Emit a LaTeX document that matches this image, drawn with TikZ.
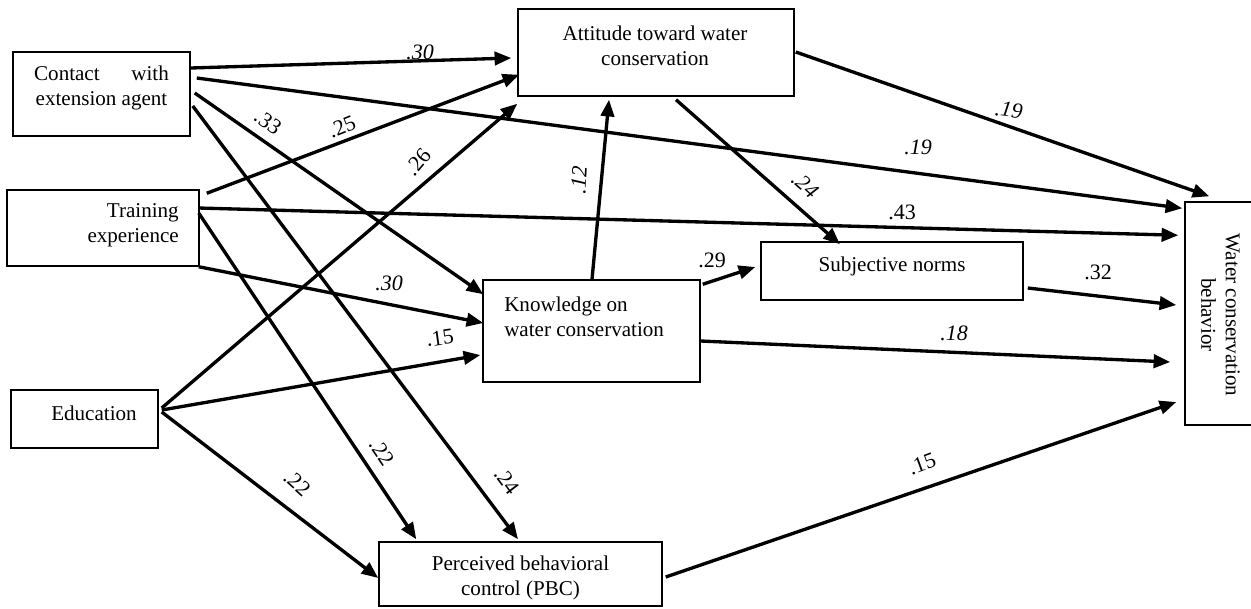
\documentclass[tikz,border=0pt]{standalone}
\usepackage{fontspec}
\setmainfont{Liberation Serif}
\usetikzlibrary{calc,arrows.meta}

\tikzset{
  box/.style={draw=black,line width=1.1pt,inner sep=0pt},
  txt/.style={font=\fontsize{15.8}{18.5}\selectfont,inner sep=0pt},
  link/.style={line width=2.5pt,-{Triangle[length=12.5pt,width=10pt]}},
  lab/.style={font=\fontsize{16.5}{18}\selectfont,inner sep=0pt}
}

\begin{document}
\begin{tikzpicture}[x=0.75pt,y=-0.75pt]
        \useasboundingbox (0,0) rectangle (1251,608);
        \node[box,minimum width=132.75pt,minimum height=63pt] (contact) at (101.5,94) {};
        \node[box,minimum width=144pt,minimum height=57pt] (training) at (103,228) {};
        \node[box,minimum width=110.25pt,minimum height=43.5pt] (edu) at (84.5,419) {};
        \node[box,minimum width=207pt,minimum height=65.25pt] (attitude) at (656,52.5) {};
        \node[box,minimum width=162.75pt,minimum height=76.5pt] (know) at (591.5,331) {};
        \node[box,minimum width=196.5pt,minimum height=43.5pt] (norms) at (892,271) {};
        \node[box,minimum width=212.25pt,minimum height=48pt] (pbc) at (520.5,574) {};
        \node[box,minimum width=53.25pt,minimum height=167.25pt] (behavior) at (1220.5,313.5) {};
        \node[txt,align=center] (contact-txt) at (101.5,88) {\hbox to 101pt{Contact\hfill with}\\extension agent};
        \node[txt,align=right,anchor=east] (training-txt) at (179,225.5) {Training\\experience};
        \node[txt] (edu-txt) at (94,413) {Education};
        \node[txt,align=center] (attitude-txt) at (655,46) {Attitude toward water\\conservation};
        \node[txt,align=left,anchor=west] (know-txt) at (504,316.5) {Knowledge on\\water conservation};
        \node[txt] (norms-txt) at (892,266) {Subjective norms};
        \node[txt,align=center] (pbc-txt) at (520.5,578) {Perceived behavioral\\control (PBC)};
        \node[txt,align=center,rotate=-90] (behavior-txt) at (1220.5,315) {Water conservation\\behavior};
        \draw[link] ($(contact.east)+(0,-26)$) -- ($(attitude.west)+(-6,5.5)$);
        \draw[link] ($(contact.east)+(6,-16)$) -- ($(behavior.north west)+(-2,7)$);
        \draw[link] ($(contact.east)+(4,-1)$) -- ($(know.north west)+(1,15)$);
        \draw[link] ($(contact.east)+(2,12)$) -- ($(pbc.north)+(-2.5,-2)$);
        \draw[link] ($(training.north east)+(7,4)$) -- ($(attitude.south west)+(2,-22)$);
        \draw[link] ($(training.east)+(-1,-20)$) -- ($(behavior.north west)+(-6,34)$);
        \draw[link] ($(training.south east)+(-1,0)$) -- ($(know.west)+(1,-8)$);
        \draw[link] ($(training.east)+(-1,-15)$) -- ($(pbc.north west)+(38,-2)$);
        \draw[link] ($(edu.east)+(3,-11)$) -- ($(attitude.south west)+(0,7)$);
        \draw[link] ($(edu.east)+(3,-9)$) -- ($(know.west)+(-2,24)$);
        \draw[link] ($(edu.east)+(3,-7)$) -- ($(pbc.west)+(0,4)$);
        \draw[link] ($(know.north)+(0.5,0)$) -- ($(attitude.south)+(-47,3)$);
        \draw[link] ($(attitude.south)+(20,3)$) -- ($(norms.north)+(-52,3)$);
        \draw[link] ($(attitude.east)+(1,-0.5)$) -- ($(behavior.north west)+(25,-5)$);
        \draw[link] ($(know.north east)+(2,5)$) -- ($(norms.west)+(-5,-4)$);
        \draw[link] ($(norms.east)+(4,17)$) -- ($(behavior.west)+(-8,-8.5)$);
        \draw[link] ($(know.east)+(0,10)$) -- ($(behavior.west)+(-14,48.5)$);
        \draw[link] ($(pbc.east)+(3,3)$) -- ($(behavior.west)+(-8,88.5)$);
        \foreach \x/\y/\r/\t [count=\i] in {420/52/0/\textit{.30},918/147/0/\textit{.19},268/122/-35/.33,507/481/-53/.24,342/127/22/.25,902/212/0/.43,389/283/0/\textit{.30},382/452/-56/.22,418/162/50/.26,440/338/8/.15,297/483/-42/.22,579/180/87/\textit{.12},805/185/-42/\textit{.24},1009/110/-8/\textit{.19},712/260/0/.29,1098/272/0/.32,954/333/0/\textit{.18},922/464/20/.15}{
          \node[lab,rotate=\r] (lab\i) at (\x,\y) {\t};
        }
      \end{tikzpicture}
\end{document}
